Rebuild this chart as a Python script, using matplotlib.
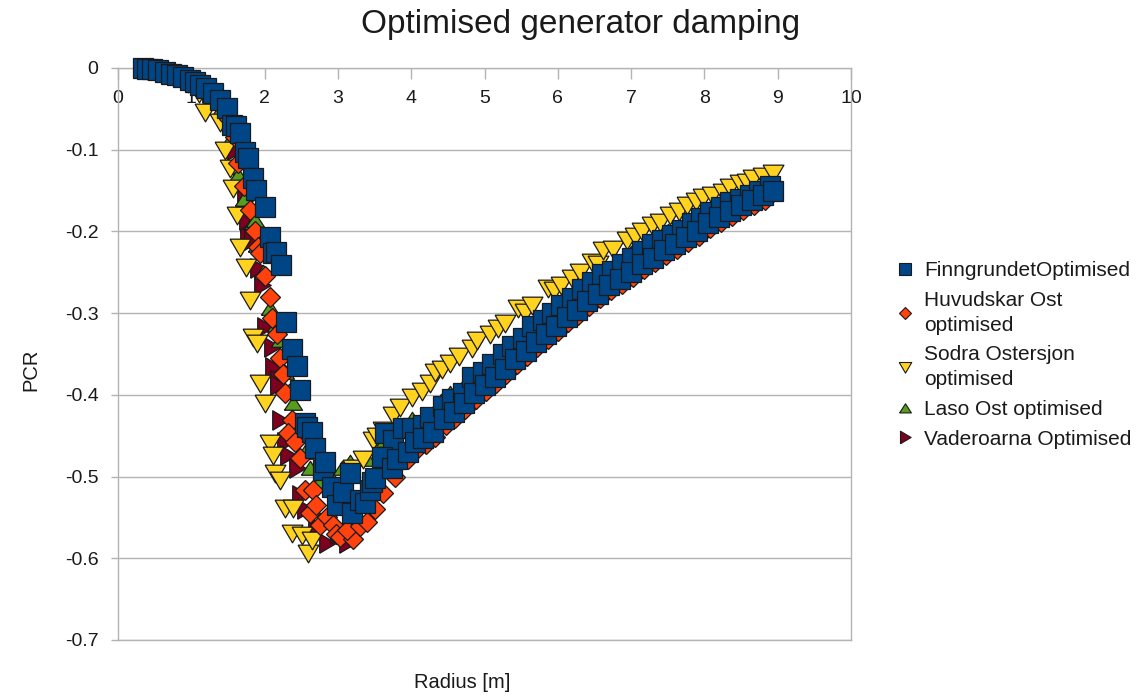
import matplotlib
matplotlib.use("Agg")
import matplotlib.pyplot as plt
from matplotlib.lines import Line2D

plt.rcParams['font.family'] = ['Liberation Sans', 'DejaVu Sans']
plt.rcParams['axes.unicode_minus'] = False

# ---------------- data ----------------
finn_r = [0.34, 0.40, 0.47, 0.55, 0.64, 0.72, 0.80, 0.89, 0.98, 1.05, 1.12, 1.20, 1.30, 1.39,
          1.49, 1.55, 1.61, 1.66, 1.73, 1.77, 1.84, 1.88, 2.00, 2.07, 2.12, 2.15, 2.22,
          2.29, 2.37, 2.44, 2.48, 2.55, 2.58, 2.65, 2.69, 2.80, 2.82, 2.92, 2.99, 3.07,
          3.16, 3.19, 3.30, 3.37, 3.44, 3.47, 3.51,
          # upper strand of rising branch
          3.64, 3.75, 3.89, 4.01, 4.16, 4.26, 4.43, 4.56, 4.71, 4.83, 4.98, 5.10, 5.25,
          5.38, 5.52, 5.65, 5.80, 5.92, 6.05, 6.19, 6.33, 6.47, 6.60, 6.74, 6.87, 7.01,
          7.15, 7.29, 7.42, 7.56, 7.70, 7.83, 7.96, 8.08, 8.22, 8.35, 8.48, 8.62, 8.75, 8.89,
          # lower strand of rising branch
          3.60, 3.74, 3.80, 3.95, 4.05, 4.16, 4.30, 4.45, 4.58, 4.72, 4.86, 5.00, 5.14,
          5.28, 5.42, 5.56, 5.70, 5.84, 5.98, 6.12, 6.26, 6.40, 6.55, 6.70, 6.85, 7.00,
          7.15, 7.30, 7.45, 7.60, 7.75, 7.90, 8.05, 8.20, 8.35, 8.50, 8.65, 8.80, 8.93]
finn_p = [0.000, -0.001, -0.001, -0.002, -0.005, -0.007, -0.009, -0.011, -0.015, -0.017,
          -0.021, -0.024, -0.031, -0.039, -0.049, -0.070, -0.071, -0.080, -0.103, -0.110,
          -0.135, -0.149, -0.170, -0.207, -0.227, -0.225, -0.241,
          -0.311, -0.344, -0.365, -0.394, -0.435, -0.439, -0.445, -0.465, -0.492, -0.482,
          -0.513, -0.535, -0.519, -0.496, -0.545, -0.529, -0.532, -0.517, -0.507, -0.502,
          -0.447, -0.455, -0.441, -0.440, -0.437, -0.427, -0.414, -0.405, -0.398, -0.378,
          -0.372, -0.362, -0.350, -0.340, -0.330, -0.316, -0.308, -0.300, -0.290, -0.282,
          -0.270, -0.262, -0.252, -0.248, -0.240, -0.232, -0.224, -0.215, -0.210, -0.204,
          -0.198, -0.190, -0.183, -0.176, -0.170, -0.164, -0.160, -0.155, -0.150, -0.145,
          -0.476, -0.490, -0.478, -0.470, -0.458, -0.453, -0.445, -0.430, -0.421, -0.410,
          -0.398, -0.388, -0.378, -0.368, -0.356, -0.346, -0.335, -0.326, -0.316, -0.305,
          -0.296, -0.285, -0.276, -0.266, -0.258, -0.250, -0.240, -0.232, -0.223, -0.215,
          -0.207, -0.199, -0.190, -0.182, -0.175, -0.168, -0.162, -0.155, -0.150]

huvud_r = [0.40, 0.60, 0.85, 1.05, 1.25, 1.40, 1.52, 1.60, 1.64, 1.72, 1.80, 1.87, 1.91,
           1.94, 2.00, 2.07, 2.10, 2.17, 2.21, 2.25, 2.28, 2.37, 2.32, 2.41, 2.48, 2.55,
           2.66, 2.62, 2.70, 2.76, 2.85, 2.93, 2.98, 3.03, 3.21, 3.12, 3.30, 3.40, 3.50,
           3.62, 3.78, 3.95, 4.08, 4.20, 4.33, 4.47, 4.60, 4.74, 4.88, 5.02, 5.16, 5.30,
           5.44, 5.58, 5.72, 5.86, 6.00, 6.14, 6.28, 6.42, 6.57, 6.72, 6.87, 7.02, 7.17,
           7.32, 7.47, 7.62, 7.77, 7.92, 8.07, 8.22, 8.37, 8.52, 8.67, 8.82]
huvud_p = [-0.001, -0.004, -0.010, -0.018, -0.030, -0.045, -0.062, -0.085, -0.116, -0.145,
           -0.174, -0.200, -0.219, -0.227, -0.255, -0.280, -0.306, -0.325, -0.355, -0.375,
           -0.398, -0.431, -0.447, -0.458, -0.477, -0.517, -0.517, -0.545, -0.535, -0.559,
           -0.550, -0.559, -0.570, -0.574, -0.576, -0.565, -0.560, -0.556, -0.540,
           -0.520, -0.500, -0.478, -0.466, -0.460, -0.452, -0.437, -0.428, -0.417, -0.405,
           -0.395, -0.385, -0.374, -0.362, -0.352, -0.341, -0.332, -0.322, -0.311, -0.302,
           -0.291, -0.282, -0.272, -0.264, -0.256, -0.246, -0.238, -0.229, -0.221, -0.213,
           -0.205, -0.196, -0.188, -0.181, -0.174, -0.168, -0.161]

sodra_r = [0.45, 0.70, 0.95, 1.10, 1.19, 1.39, 1.46, 1.53, 1.57, 1.62, 1.66, 1.75, 1.80,
           1.84, 1.90, 1.94, 2.01, 2.07, 2.11, 2.14, 2.21, 2.28, 2.39, 2.37, 2.51, 2.59,
           2.65, 3.20, 3.34, 3.48, 3.53, 3.62, 3.75, 3.85, 4.01, 4.15, 4.26, 4.32, 4.42,
           4.53, 4.65, 4.83, 4.90, 5.07, 5.18, 5.28, 5.46, 5.55, 5.65, 5.87, 5.95, 6.05,
           6.19, 6.30, 6.47, 6.55, 6.62, 6.75, 6.94, 7.05, 7.15, 7.29, 7.40, 7.53, 7.65,
           7.76, 7.88, 7.98, 8.10, 8.25, 8.35, 8.49, 8.58, 8.66, 8.80, 8.94]
sodra_p = [-0.001, -0.006, -0.015, -0.030, -0.054, -0.066, -0.100, -0.122, -0.147, -0.180,
           -0.219, -0.243, -0.284, -0.329, -0.337, -0.386, -0.410, -0.459, -0.474, -0.496,
           -0.504, -0.539, -0.539, -0.569, -0.572, -0.594, -0.578, -0.490, -0.478, -0.455,
           -0.450, -0.443, -0.425, -0.415, -0.403, -0.395, -0.386, -0.372, -0.368, -0.361,
           -0.352, -0.343, -0.333, -0.325, -0.318, -0.312, -0.294, -0.298, -0.290, -0.269,
           -0.272, -0.265, -0.257, -0.250, -0.237, -0.240, -0.223, -0.222, -0.211, -0.205,
           -0.200, -0.192, -0.188, -0.180, -0.175, -0.168, -0.163, -0.158, -0.155, -0.152,
           -0.146, -0.141, -0.140, -0.135, -0.132, -0.128]

laso_r = [0.50, 0.90, 1.20, 1.40, 1.55, 1.64, 1.72, 1.84, 1.90, 1.87, 1.98, 2.07, 2.15,
          2.21, 2.28, 2.33, 2.39, 2.45, 2.55, 2.62, 2.75, 2.90, 3.05, 3.17, 3.40, 3.62,
          3.80, 4.01, 4.20, 4.40, 4.53, 4.70, 4.85, 5.00, 5.20, 5.40, 5.60, 5.80, 6.00,
          6.28, 6.50, 6.75, 7.00, 7.25, 7.50, 7.75, 8.00, 8.25, 8.50, 8.75, 8.90]
laso_p = [-0.002, -0.012, -0.028, -0.050, -0.085, -0.131, -0.160, -0.188, -0.217, -0.186,
          -0.250, -0.294, -0.315, -0.333, -0.372, -0.395, -0.410, -0.440, -0.470, -0.490,
          -0.505, -0.500, -0.490, -0.482, -0.478, -0.455, -0.440, -0.430, -0.425, -0.408,
          -0.398, -0.390, -0.372, -0.365, -0.350, -0.335, -0.318, -0.302, -0.288, -0.266,
          -0.255, -0.242, -0.226, -0.212, -0.200, -0.190, -0.178, -0.166, -0.156, -0.148,
          -0.142]

vader_r = [0.50, 0.95, 1.25, 1.45, 1.60, 1.68, 1.73, 1.77, 1.77, 1.76, 1.83, 1.91, 1.96,
           2.00, 2.10, 2.11, 2.18, 2.18, 2.21, 2.28, 2.32, 2.44, 2.48, 2.55, 2.70, 2.85,
           3.00, 3.12, 3.30, 3.55, 3.85, 4.15, 4.50, 4.85, 5.20, 5.55, 5.90, 6.25, 6.60,
           6.95, 7.30, 7.65, 8.00, 8.35, 8.70, 8.88]
vader_p = [-0.002, -0.014, -0.030, -0.055, -0.100, -0.140, -0.162, -0.190, -0.207, -0.186,
           -0.211, -0.245, -0.266, -0.317, -0.341, -0.366, -0.382, -0.388, -0.431, -0.458,
           -0.474, -0.490, -0.523, -0.540, -0.560, -0.581, -0.570, -0.581, -0.540, -0.515,
           -0.480, -0.455, -0.428, -0.402, -0.375, -0.348, -0.322, -0.298, -0.272, -0.252,
           -0.233, -0.214, -0.193, -0.176, -0.160, -0.153]

series_names = ["FinngrundetOptimised", "Huvudskar Ost\noptimised", "Sodra Ostersjon\noptimised",
                "Laso Ost optimised", "Vaderoarna Optimised"]

x_ticks = [0, 1, 2, 3, 4, 5, 6, 7, 8, 9, 10]
y_ticks = [0, -0.1, -0.2, -0.3, -0.4, -0.5, -0.6, -0.7]
y_tick_labels = ["0", "-0.1", "-0.2", "-0.3", "-0.4", "-0.5", "-0.6", "-0.7"]

# ---------------- style ----------------
tri_down = [(-1.0, 0.8), (1.0, 0.8), (0.0, -0.9), (-1.0, 0.8)]
tri_up = [(-1.0, -0.75), (1.0, -0.75), (0.0, 0.8), (-1.0, -0.75)]
tri_right = [(-0.8, -1.0), (-0.8, 1.0), (0.9, 0.0), (-0.8, -1.0)]
colors = ["#004586", "#ff420e", "#ffd320", "#579d1c", "#7e0021"]
markers = ["s", "D", tri_down, tri_up, tri_right]
msizes = [14, 10, 15, 13, 14]
zorders = [7, 6, 5, 4, 3]
data = [(finn_r, finn_p), (huvud_r, huvud_p), (sodra_r, sodra_p),
        (laso_r, laso_p), (vader_r, vader_p)]

W, H = 1146, 697
fig = plt.figure(figsize=(W / 100, H / 100), dpi=100)
ax = fig.add_axes([118 / W, 1 - 640 / H, (851 - 118) / W, (640 - 68) / H])

grid_c = "#b3b3b3"
text_c = "#1a1a1a"
for (xs, ys), c, m, ms, z in zip(data, colors, markers, msizes, zorders):
    ax.plot(xs, ys, linestyle="none", marker=m, markersize=ms, markerfacecolor=c,
            markeredgecolor="#1a1a1a", markeredgewidth=0.9, zorder=z, clip_on=False)

ax.set_xlim(0, 10)
ax.set_ylim(-0.7, 0)
ax.set_xticks(x_ticks)
ax.set_xticklabels([str(v) for v in x_ticks])
ax.set_yticks(y_ticks)
ax.set_yticklabels(y_tick_labels)

ax.spines['bottom'].set_position(('data', 0))
for s in ['bottom', 'left', 'right', 'top']:
    ax.spines[s].set_color(grid_c)
    ax.spines[s].set_linewidth(1.0)
ax.spines['top'].set_visible(False)

ax.yaxis.grid(True, color=grid_c, linewidth=1.0)
ax.set_axisbelow(True)
ax.tick_params(axis='x', direction='out', length=8, width=1.0, color=grid_c,
               pad=8, labelsize=14, labelcolor=text_c)
ax.tick_params(axis='y', direction='out', length=5, width=1.0, color=grid_c,
               pad=9, labelsize=14, labelcolor=text_c)

# bottom border (the x axis sits at y=0)
ax.axhline(-0.7, color=grid_c, linewidth=1.0, zorder=0.5, clip_on=False)

ax.set_xlabel("Radius [m]", fontsize=14.5, color=text_c)
ax.xaxis.set_label_coords((462 - 118) / 733, (640 - 673) / 572)
ax.set_ylabel("PCR", fontsize=14.5, color=text_c)
ax.yaxis.set_label_coords((40 - 118) / 733, (640 - 370) / 572)

fig.suptitle("Optimised generator damping", x=581 / W, y=1 - 25 / H, va="center",
             fontsize=24, color=text_c)

leg_sizes = [8, 6, 9, 8.5, 9]
handles = [Line2D([], [], linestyle="none", marker=m, markersize=ls,
                  markerfacecolor=c, markeredgecolor="#1a1a1a", markeredgewidth=0.8)
           for c, m, ls in zip(colors, markers, leg_sizes)]
leg = fig.legend(handles, series_names, loc="center left",
                 bbox_to_anchor=(897 / W, 1 - 355 / H),
                 frameon=False, fontsize=15, handlelength=0.8, handletextpad=0.5,
                 labelspacing=0.52, borderaxespad=0, borderpad=0)
for t in leg.get_texts():
    t.set_linespacing(1.37)
    t.set_color(text_c)

fig.savefig("out.png", dpi=100)
